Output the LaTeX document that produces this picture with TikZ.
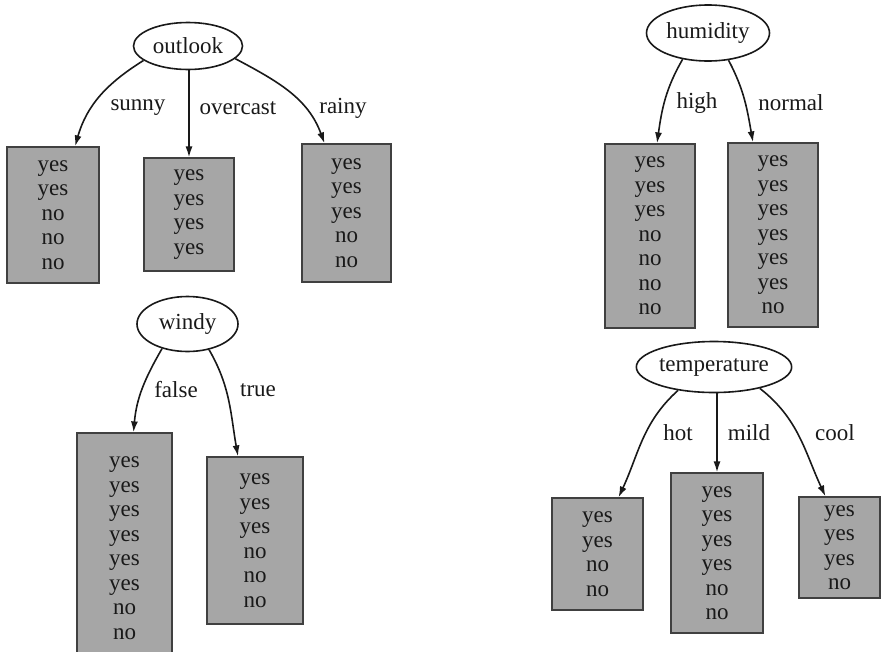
\documentclass[tikz,border=0pt]{standalone}
\usepackage{fontspec}
\setmainfont{Liberation Serif}
\usetikzlibrary{shapes.geometric,arrows.meta}

\begin{document}
\begin{tikzpicture}[x=1pt,y=1pt,
  attr/.style={draw=black!90, line width=1.6pt, ellipse, inner sep=0pt,
    font=\fontsize{23}{24}\selectfont, text=black!90},
  leaf/.style={draw=black!75, line width=1.2pt, fill=black!35, inner sep=0pt,
    align=center, text=black!90,
    font=\fontsize{23}{24.5}\selectfont},
  lbl/.style={font=\fontsize{23}{24}\selectfont, text=black!90, inner sep=0pt},
  arr/.style={line width=1.6pt, draw=black!90,
    -{Latex[length=11pt,width=7pt]}}]

\useasboundingbox (0,0) rectangle (882,-651);

%% outlook
\node[attr, minimum width=109, minimum height=47] (outlook) at (188,-46) {outlook};
\node[leaf, minimum width=92, minimum height=136] (sunny) at (53,-215)
  {yes\\yes\\no\\no\\no};
\node[leaf, minimum width=90, minimum height=113] (overcast) at (189,-214.5)
  {yes\\yes\\yes\\yes};
\node[leaf, minimum width=89, minimum height=138] (rainy) at (346.5,-213)
  {yes\\yes\\yes\\no\\no};
\draw[arr] (outlook.198) to[out=212,in=74] ([xshift=22]sunny.north);
\draw[arr] (outlook.south -| overcast.north) -- (overcast.north);
\draw[arr] (outlook.345) to[out=-28,in=110] ([xshift=-22]rainy.north);
\node[lbl] (lsunny) at (138,-108) {sunny};
\node[lbl] (lovercast) at (238,-108) {overcast};
\node[lbl] (lrainy) at (343,-108) {rainy};

%% humidity
\node[attr, minimum width=123, minimum height=56] (humidity) at (708,-33) {humidity};
\node[leaf, minimum width=90, minimum height=184] (high) at (650,-236)
  {yes\\yes\\yes\\no\\no\\no\\no};
\node[leaf, minimum width=90, minimum height=184] (normal) at (773,-235)
  {yes\\yes\\yes\\yes\\yes\\yes\\no};
\draw[arr] (humidity.226) to[out=240,in=82] ([xshift=7]high.north);
\draw[arr] (humidity.307) to[out=-62,in=100] ([xshift=-20]normal.north);
\node[lbl] (lhigh) at (697,-103) {high};
\node[lbl] (lnormal) at (791,-103) {normal};

%% windy
\node[attr, minimum width=101, minimum height=55] (windy) at (187.5,-324) {windy};
\node[leaf, minimum width=95, minimum height=230] (false) at (124.5,-548)
  {yes\\yes\\yes\\yes\\yes\\yes\\no\\no};
\node[leaf, minimum width=96, minimum height=167] (true) at (255,-540.5)
  {yes\\yes\\yes\\no\\no\\no};
\draw[arr] (windy.224) to[out=240,in=85] ([xshift=9]false.north);
\draw[arr] (windy.310) to[out=-60,in=100] ([xshift=-17]true.north);
\node[lbl] (lfalse) at (176,-390) {false};
\node[lbl] (ltrue) at (258,-390) {true};

%% temperature
\node[attr, minimum width=143, minimum height=51] (temperature) at (714,-367) {temperature};
\node[leaf, minimum width=91, minimum height=112] (hot) at (597.5,-554)
  {yes\\yes\\no\\no};
\node[leaf, minimum width=92, minimum height=160] (mild) at (717,-553)
  {yes\\yes\\yes\\yes\\no\\no};
\node[leaf, minimum width=81, minimum height=101] (cool) at (839.5,-547.5)
  {yes\\yes\\yes\\no};
\draw[arr] (temperature.213) to[out=222,in=65] ([xshift=21]hot.north);
\draw[arr] (temperature.south -| mild.north) -- (mild.north);
\draw[arr] (temperature.335) to[out=-38,in=115] ([xshift=-14]cool.north);
\node[lbl] (lhot) at (678,-433) {hot};
\node[lbl] (lmild) at (749,-433) {mild};
\node[lbl] (lcool) at (835,-433) {cool};

\end{tikzpicture}
\end{document}
